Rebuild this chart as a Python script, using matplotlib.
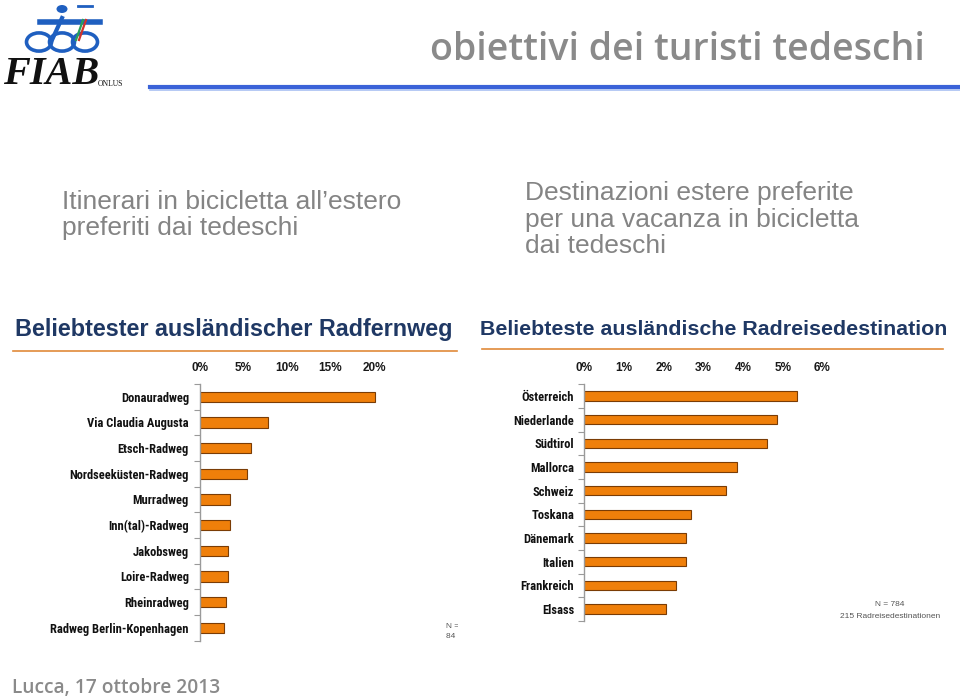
import matplotlib
matplotlib.use("Agg")
import matplotlib.pyplot as plt
from matplotlib import font_manager
from matplotlib.font_manager import FontProperties
from matplotlib.patches import Circle
from matplotlib.transforms import Bbox

# ---------------- data ----------------
routes = ["Donauradweg", "Via Claudia Augusta", "Etsch-Radweg", "Nordseeküsten-Radweg",
          "Murradweg", "Inn(tal)-Radweg", "Jakobsweg", "Loire-Radweg", "Rheinradweg",
          "Radweg Berlin-Kopenhagen"]
route_vals = [20.1, 7.8, 5.9, 5.4, 3.45, 3.45, 3.25, 3.25, 2.95, 2.8]
route_ticks = [0, 5, 10, 15, 20]

dests = ["Österreich", "Niederlande", "Südtirol", "Mallorca", "Schweiz", "Toskana",
         "Dänemark", "Italien", "Frankreich", "Elsass"]
dest_vals = [5.36, 4.85, 4.59, 3.84, 3.58, 2.69, 2.56, 2.56, 2.31, 2.05]
dest_ticks = [0, 1, 2, 3, 4, 5, 6]

# ---------------- fonts ----------------
def find_condensed_bold():
    ranked = []
    for f in font_manager.fontManager.ttflist:
        nm = f.name
        fn = f.fname.lower()
        is_bold = f.weight in ("bold", 700, "700") or "bold" in fn
        if not is_bold or "oblique" in fn or "italic" in fn:
            continue
        if "Narrow" in nm and "Liberation" in nm:
            ranked.append((0, f.fname))
        elif "condensed" in fn and "roboto" in fn:
            ranked.append((1, f.fname))
        elif "condensed" in fn and "dejavusans" in fn and "mono" not in fn:
            ranked.append((2, f.fname))
        elif ("condensed" in fn or "narrow" in fn) and "mono" not in fn and "serif" not in fn:
            ranked.append((3, f.fname))
    ranked.sort()
    return ranked[0][1] if ranked else None

cond_path = find_condensed_bold()
if cond_path:
    LABEL_FP = FontProperties(fname=cond_path, size=9.0)
else:
    LABEL_FP = FontProperties(family="Liberation Sans", weight="bold", size=8.0)

ARIAL = "Liberation Sans"
HEAD = "Open Sans"

W, H = 960, 698
fig = plt.figure(figsize=(W / 100, H / 100), dpi=100)
fig.patch.set_facecolor("white")

def fx(px):
    return px / W

def fy(py):
    return 1 - py / H

ORANGE = "#EF7F0A"
EDGE = "#7A3C05"
NAVY = "#1F3864"
GRAYTXT = "#848484"

# ---------------- header ----------------
fig.text(fx(925), fy(50), "obiettivi dei turisti tedeschi", ha="right", va="center",
         fontsize=27, color="#8A8A8A", family=HEAD, fontweight="semibold")
fig.add_artist(plt.Line2D([fx(150), fx(960)], [fy(87), fy(87)], color="#3A62D8", lw=3))
fig.add_artist(plt.Line2D([fx(150), fx(960)], [fy(89.5), fy(89.5)], color="#A9C0F2", lw=1.2))

# logo (simplified)
BLUE = "#1F5FC0"
for cx in (39, 62, 85):
    fig.add_artist(Circle((fx(cx), fy(42)), 12.5 / W, transform=fig.transFigure,
                          fill=False, ec=BLUE, lw=2.6))
fig.add_artist(Circle((fx(62), fy(9)), 5.5 / W, transform=fig.transFigure,
                      fc=BLUE, ec="none"))
fig.add_artist(plt.Line2D([fx(40), fx(100)], [fy(22), fy(22)], color=BLUE, lw=4))
fig.add_artist(plt.Line2D([fx(52), fx(62)], [fy(40), fy(18)], color=BLUE, lw=3))
fig.add_artist(plt.Line2D([fx(76), fx(83)], [fy(40), fy(20)], color="#2AA05A", lw=1.6))
fig.add_artist(plt.Line2D([fx(79), fx(86)], [fy(40), fy(20)], color="#D0342C", lw=1.6))
fig.add_artist(plt.Line2D([fx(78), fx(92)], [fy(6), fy(6)], color=BLUE, lw=2))
fig.text(fx(3), fy(75), "FIAB", ha="left", va="center", fontsize=29, style="italic",
         fontweight="bold", family="Liberation Serif", color="#111111")
fig.text(fx(98), fy(84), "ONLUS", ha="left", va="center", fontsize=5.5,
         family="Liberation Serif", color="#111111")

# subtitles
fig.text(fx(62), fy(202), "Itinerari in bicicletta all\u2019estero", ha="left", va="center",
         fontsize=19, color=GRAYTXT, family=ARIAL)
fig.text(fx(62), fy(228), "preferiti dai tedeschi", ha="left", va="center",
         fontsize=19, color=GRAYTXT, family=ARIAL)
for i, line in enumerate(["Destinazioni estere preferite", "per una vacanza in bicicletta",
                          "dai tedeschi"]):
    fig.text(fx(525), fy(193 + i * 26.5), line, ha="left", va="center",
             fontsize=19, color=GRAYTXT, family=ARIAL)

# footer
fig.text(fx(12), fy(688), "Lucca, 17 ottobre 2013", ha="left", va="center",
         fontsize=13.8, color="#8A8A8A", family=HEAD, fontweight="semibold")

# chart titles + orange rules
fig.text(fx(15), fy(330), "Beliebtester ausländischer Radfernweg", ha="left", va="center",
         fontsize=16.8, fontweight="bold", color=NAVY, family=ARIAL)
fig.add_artist(plt.Line2D([fx(13), fx(457)], [fy(350.5), fy(350.5)], color="#E08A3A", lw=1.2))
fig.text(fx(480), fy(330), "Beliebteste ausländische Radreisedestination", ha="left", va="center",
         fontsize=15.4, fontweight="bold", color=NAVY, family=ARIAL)
fig.add_artist(plt.Line2D([fx(482), fx(943)], [fy(349), fy(349)], color="#E08A3A", lw=1.2))


def bar_panel(x0, px_per_unit, xmax, y_first, spacing, cats, vals, ticks, label_pad):
    n = len(cats)
    top = y_first - spacing / 2
    height = spacing * n
    width = px_per_unit * xmax
    ax = fig.add_axes([fx(x0), fy(top + height), width / W, height / H])
    ax.set_facecolor("none")
    pos = list(range(n))
    ax.barh(pos, vals, height=0.4, color=ORANGE, edgecolor=EDGE, linewidth=0.8)
    ax.set_xlim(0, xmax)
    ax.set_ylim(n - 0.5, -0.5)
    for s in ("top", "right", "bottom"):
        ax.spines[s].set_visible(False)
    ax.spines["left"].set_color("#9A9A9A")
    ax.spines["left"].set_linewidth(1.0)
    ax.xaxis.tick_top()
    ax.set_xticks(ticks)
    ax.set_xticklabels([f"{t}%" for t in ticks], fontsize=8.5, fontweight="bold",
                       family=ARIAL, color="#1A1A1A")
    ax.tick_params(axis="x", length=0, pad=7)
    ax.set_yticks(pos)
    ax.set_yticklabels(cats, fontproperties=LABEL_FP, color="#111111")
    ax.tick_params(axis="y", which="major", length=0, pad=label_pad)
    ax.set_yticks([p - 0.5 for p in range(n + 1)], minor=True)
    ax.tick_params(axis="y", which="minor", length=4, color="#9A9A9A", width=0.8)
    return ax


axL = bar_panel(200, 8.7, 28, 396.7, 25.67, routes, route_vals, route_ticks, 8)
axR = bar_panel(584.3, 39.7, 8.8, 396, 23.67, dests, dest_vals, dest_ticks, 7.3)

# sample notes
fig.text(fx(890), fy(605), "N = 784", ha="center", va="center", fontsize=6, color="#555555",
         family=ARIAL)
fig.text(fx(890), fy(616), "215 Radreisedestinationen", ha="center", va="center", fontsize=6,
         color="#555555", family=ARIAL)
clip = Bbox.from_extents(0, H - 639, 458, H)
for txt, yy in (("N =", 627), ("84 Radfernwege", 637)):
    t = fig.text(fx(446), fy(yy), txt, ha="left", va="center", fontsize=6,
                 color="#555555", family=ARIAL)
    t.set_clip_box(clip)
    t.set_clip_on(True)

fig.savefig("out.png", dpi=100, facecolor="white")
